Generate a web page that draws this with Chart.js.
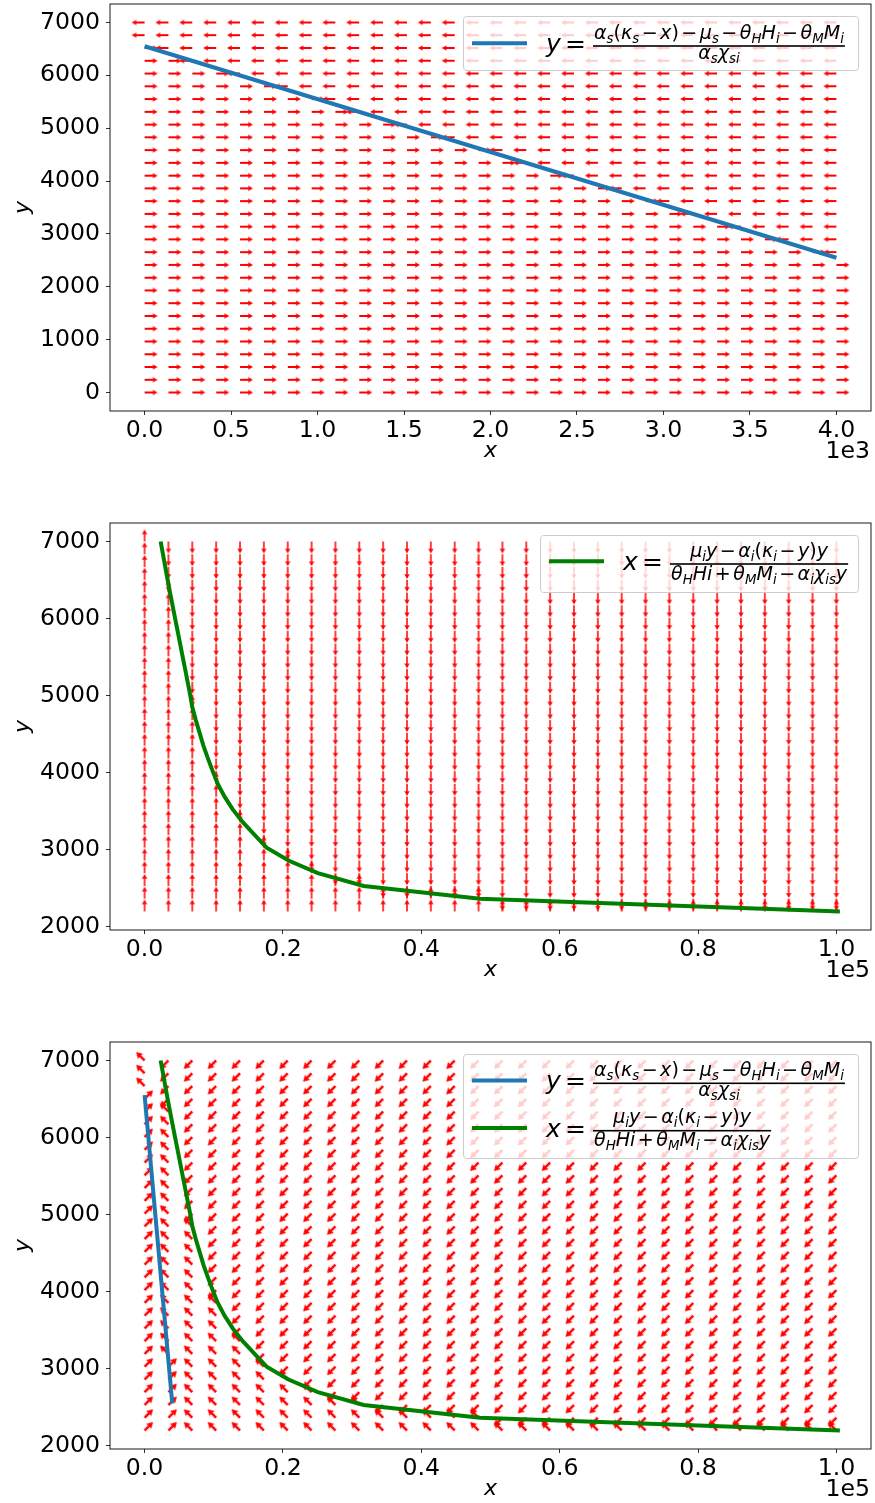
<!DOCTYPE html>
<html>
<head>
<meta charset="utf-8">
<script src="https://cdn.jsdelivr.net/npm/chart.js@4.4.0/dist/chart.umd.min.js"></script>
<style>
  html, body { margin: 0; padding: 0; background: #fff; overflow: hidden; }
  #wrap { position: relative; width: 875px; height: 1503px; }
  canvas { position: absolute; left: 0; }
</style>
</head>
<body>
<div id="wrap">
  <canvas id="c1" width="875" height="465" style="top:0px"></canvas>
  <canvas id="c2" width="875" height="465" style="top:519px"></canvas>
  <canvas id="c3" width="875" height="465" style="top:1038px"></canvas>
</div>
<script>
// ---- panel 1: quiver grid (x 0..4000, y 0..7000) ----
const gridX1 = [0, 138, 276, 414, 552, 690, 828, 966, 1103, 1241, 1379, 1517, 1655, 1793, 1931,
  2069, 2207, 2345, 2483, 2621, 2759, 2897, 3034, 3172, 3310, 3448, 3586, 3724, 3862, 4000];
const gridY1 = [0, 241, 483, 724, 966, 1207, 1448, 1690, 1931, 2172, 2414, 2655, 2897, 3138, 3379,
  3621, 3862, 4103, 4345, 4586, 4828, 5069, 5310, 5552, 5793, 6034, 6276, 6517, 6759, 7000];
// per row (bottom -> top): how many arrows from the left point right, the rest point left
const rightCount1 = [30, 30, 30, 30, 30, 30, 30, 30, 30, 30, 30, 29, 27, 25, 23,
  22, 20, 18, 16, 15, 13, 11, 9, 8, 6, 4, 2, 1, 0, 0];

// ---- panels 2 and 3: quiver grid (x 0..1e5, y 2200..7000) ----
const gridX2 = [0, 3448, 6897, 10345, 13793, 17241, 20690, 24138, 27586, 31034, 34483, 37931,
  41379, 44828, 48276, 51724, 55172, 58621, 62069, 65517, 68966, 72414, 75862, 79310, 82759,
  86207, 89655, 93103, 96552, 100000];
const gridY2 = [2200, 2366, 2531, 2697, 2862, 3028, 3193, 3359, 3524, 3690, 3855, 4021, 4186,
  4352, 4517, 4683, 4848, 5014, 5179, 5345, 5510, 5676, 5841, 6007, 6172, 6338, 6503, 6669,
  6834, 7000];
// per row: arrows left of the green curve point up (dy > 0), the rest down
const upCount2 = [30, 15, 10, 8, 7, 6, 5, 5, 4, 4, 4, 3, 3, 3, 3, 3, 3,
  2, 2, 2, 2, 2, 2, 2, 2, 2, 1, 1, 1, 1];
// panel 3, per row: arrows left of the blue line point right (dx > 0)
const rightCount3 = [2, 2, 2, 2, 2, 2, 1, 1, 1, 1, 1, 1, 1, 1, 1, 1, 1, 1, 1, 1,
  1, 1, 1, 1, 1, 1, 1, 0, 0, 0];

// nullclines
const blueX = [0, 4000];
const blueY = [6550, 2550];
const greenX = [100500, 48500, 31670, 25040, 20800, 17640, 15900, 14190, 12740, 11560, 10580,
  9840, 9150, 8500, 7950, 7400, 6900, 6580, 6220, 5860, 5490, 5130, 4770, 4400, 4040, 3680,
  3330, 2990, 2660, 2320];
const greenY = gridY2;

// axis ticks
const xTicks1 = [0, 500, 1000, 1500, 2000, 2500, 3000, 3500, 4000];
const yTicks1 = [0, 1000, 2000, 3000, 4000, 5000, 6000, 7000];
const xTicks2 = [0, 20000, 40000, 60000, 80000, 100000];
const yTicks2 = [2000, 3000, 4000, 5000, 6000, 7000];

const FORMULA_S = { lhs: 'y = ', num: 'α_s(κ_s − x) − μ_s − θ_HH_i − θ_MM_i', den: 'α_sχ_{si}' };
const FORMULA_I = { lhs: 'x = ', num: 'μ_iy − α_i(κ_i − y)y', den: 'θ_HHi + θ_MM_i − α_iχ_{is}y' };

const BLUE = '#1f77b4';
const GREEN = '#008000';
const FONT = 'DejaVu Sans';
const TICK_SIZE = 23.6;

// ---------- arrows ----------
function arrowSprite(len, shaft, headW, headL, headAxis) {
  const size = 2 * len + 8;
  const c = document.createElement('canvas');
  c.width = size; c.height = size;
  const g = c.getContext('2d');
  const cx = size / 2, cy = size / 2;
  g.fillStyle = '#ff0000';
  g.beginPath();
  g.moveTo(cx, cy - shaft / 2);
  g.lineTo(cx + len - headAxis, cy - shaft / 2);
  g.lineTo(cx + len - headL, cy - headW / 2);
  g.lineTo(cx + len, cy);
  g.lineTo(cx + len - headL, cy + headW / 2);
  g.lineTo(cx + len - headAxis, cy + shaft / 2);
  g.lineTo(cx, cy + shaft / 2);
  g.closePath();
  g.fill();
  return c;
}
const arrowH = arrowSprite(13, 1.8, 5.5, 5, 4.5);
const arrowV = arrowSprite(12, 1.7, 5.5, 5, 4.5);
const arrowD = arrowSprite(12, 2.4, 7.5, 6.5, 5.6);

function arrowSet(points, sprite, rot) {
  return {
    data: points, pointStyle: sprite, pointRotation: rot,
    pointRadius: 3, pointHoverRadius: 3, order: 5
  };
}
function lineSet(xs, ys, color) {
  return {
    data: xs.map((x, i) => ({ x, y: ys[i] })), showLine: true,
    borderColor: color, borderWidth: 4, pointRadius: 0, order: 0
  };
}

// panel 1 arrows
const p1R = [], p1L = [];
gridY1.forEach((y, i) => gridX1.forEach((x, j) => (j < rightCount1[i] ? p1R : p1L).push({ x, y })));

// panel 2 arrows
const p2U = [], p2D = [];
gridY2.forEach((y, i) => gridX2.forEach((x, j) => (j < upCount2[i] ? p2U : p2D).push({ x, y })));

// panel 3 arrows
const p3 = { ne: [], nw: [], sw: [], se: [] };
gridY2.forEach((y, i) => gridX2.forEach((x, j) => {
  const right = j < rightCount3[i], up = j < upCount2[i];
  p3[(up ? 'n' : 's') + (right ? 'e' : 'w')].push({ x, y });
}));

// ---------- mathtext-ish text ----------
function parseMath(str) {
  const runs = [];
  for (let i = 0; i < str.length; i++) {
    const c = str[i];
    if (c === '_') {
      let t;
      if (str[i + 1] === '{') { const k = str.indexOf('}', i); t = str.slice(i + 2, k); i = k; }
      else { t = str[i + 1]; i++; }
      runs.push({ t, sub: true });
    } else runs.push({ t: c, sub: false });
  }
  return runs;
}
function drawMath(ctx, str, x, base, size, measureOnly) {
  let cx = x;
  for (const r of parseMath(str)) {
    const s = r.sub ? size * 0.7 : size;
    const dy = r.sub ? size * 0.22 : 0;
    for (const ch of r.t) {
      if (ch === ' ') { cx += s * 0.13; continue; }
      const it = /[A-Za-z\u03b1-\u03c9]/.test(ch);
      ctx.font = (it ? 'italic ' : '') + s + 'px "' + FONT + '"';
      if (!measureOnly) ctx.fillText(ch, cx, base + dy);
      cx += ctx.measureText(ch).width;
    }
  }
  return cx - x;
}
const fracSize = (() => {
  const g = document.createElement('canvas').getContext('2d');
  return 100 * 250 / drawMath(g, FORMULA_S.num, 0, 0, 100, true);
})();

function roundRect(ctx, x, y, w, h, r) {
  ctx.beginPath();
  ctx.moveTo(x + r, y);
  ctx.arcTo(x + w, y, x + w, y + h, r);
  ctx.arcTo(x + w, y + h, x, y + h, r);
  ctx.arcTo(x, y + h, x, y, r);
  ctx.arcTo(x, y, x + w, y, r);
  ctx.closePath();
}

function drawLegend(ctx, lg) {
  const { x, y, w, h } = lg.box;
  ctx.save();
  roundRect(ctx, x + 0.5, y + 0.5, w, h, 3);
  ctx.fillStyle = 'rgba(255,255,255,0.8)';
  ctx.fill();
  ctx.strokeStyle = '#cccccc';
  ctx.lineWidth = 1;
  ctx.stroke();
  for (const e of lg.entries) {
    ctx.strokeStyle = e.color;
    ctx.lineWidth = 4;
    ctx.beginPath();
    ctx.moveTo(x + 9, e.bar - 2.7);
    ctx.lineTo(x + 64, e.bar - 2.7);
    ctx.stroke();
    ctx.fillStyle = '#000';
    ctx.textAlign = 'left';
    ctx.textBaseline = 'alphabetic';
    ctx.font = 'italic 25px "' + FONT + '"';
    ctx.fillText(e.f.lhs[0], x + 83, e.bar + 6);
    ctx.font = '25px "' + FONT + '"';
    ctx.fillText('=', x + 102, e.bar + 6);
    const nw = drawMath(ctx, e.f.num, 0, 0, fracSize, true);
    const dw = drawMath(ctx, e.f.den, 0, 0, fracSize, true);
    const bw = Math.max(nw, dw) + 2;
    const fx = x + 130;
    ctx.fillRect(fx, e.bar - 0.8, bw, 1.6);
    drawMath(ctx, e.f.num, fx + (bw - nw) / 2, e.bar - 7.5, fracSize);
    drawMath(ctx, e.f.den, fx + (bw - dw) / 2, e.bar + e.denDy, fracSize);
  }
  ctx.restore();
}

// spines, offset text ("1e3") and legend
const framePlugin = {
  id: 'frame',
  afterDraw(chart, args, opts) {
    const { ctx, chartArea: a } = chart;
    ctx.save();
    ctx.strokeStyle = '#000';
    ctx.lineWidth = 0.9;
    ctx.strokeRect(a.left, a.top, a.right - a.left, a.bottom - a.top);
    ctx.fillStyle = '#000';
    ctx.font = TICK_SIZE + 'px "' + FONT + '"';
    ctx.textAlign = 'right';
    ctx.textBaseline = 'alphabetic';
    ctx.fillText(opts.offsetText, a.right - 1, a.bottom + 47);
    ctx.restore();
    if (opts.legend) drawLegend(ctx, opts.legend);
  }
};

const tickFont = { family: FONT, size: TICK_SIZE };
function axis(min, max, ticks, fmt, label, isX) {
  return {
    type: 'linear', min, max,
    afterBuildTicks: s => { s.ticks = ticks.map(v => ({ value: v })); },
    afterFit: s => {
      if (isX) { s.height = 50; s.paddingLeft = 0; s.paddingRight = 0; }
      else { s.width = 110; s.paddingTop = 0; s.paddingBottom = 0; }
    },
    ticks: { font: tickFont, color: '#000', padding: isX ? 2 : 6, autoSkip: false, maxRotation: 0, callback: fmt },
    grid: { drawOnChartArea: false, drawTicks: true, tickLength: 4, tickWidth: 1, color: '#333' },
    border: { display: false },
    title: isX
      ? { display: true, text: label, color: '#000', font: { family: FONT, size: 22, style: 'italic', lineHeight: 0.9 }, padding: 0 }
      : { display: true, text: label, color: '#000', font: { family: FONT, size: 22, style: 'italic', lineHeight: 1.2 }, padding: { top: 10, bottom: 0 } }
  };
}

function makeChart(id, datasets, xs, ys, frame) {
  return new Chart(document.getElementById(id), {
    type: 'scatter',
    data: { datasets },
    options: {
      responsive: false,
      animation: false,
      devicePixelRatio: 1,
      events: [],
      layout: { padding: { left: 0, top: 4, right: 3, bottom: 4 } },
      scales: { x: xs, y: ys },
      plugins: { legend: { display: false }, tooltip: { enabled: false }, frame }
    },
    plugins: [framePlugin]
  });
}

const fmtX1 = v => (v / 1000).toFixed(1);
const fmtX2 = v => (v / 100000).toFixed(1);
const fmtY = v => String(v);

makeChart('c1', [
  lineSet(blueX, blueY, BLUE),
  arrowSet(p1R, arrowH, 0),
  arrowSet(p1L, arrowH, 180)
], axis(-200, 4200, xTicks1, fmtX1, 'x', true), axis(-350, 7350, yTicks1, fmtY, 'y', false), {
  offsetText: '1e3',
  legend: { box: { x: 463, y: 16, w: 395, h: 54 }, entries: [{ color: BLUE, f: FORMULA_S, bar: 46, denDy: 12.5 }] }
});

makeChart('c2', [
  lineSet(greenX, greenY, GREEN),
  arrowSet(p2U, arrowV, -90),
  arrowSet(p2D, arrowV, 90)
], axis(-5000, 105000, xTicks2, fmtX2, 'x', true), axis(1960, 7240, yTicks2, fmtY, 'y', false), {
  offsetText: '1e5',
  legend: { box: { x: 540, y: 16, w: 318, h: 57 }, entries: [{ color: GREEN, f: FORMULA_I, bar: 45, denDy: 15.5 }] }
});

makeChart('c3', [
  lineSet(blueX, blueY, BLUE),
  lineSet(greenX, greenY, GREEN),
  arrowSet(p3.ne, arrowD, -45),
  arrowSet(p3.nw, arrowD, -135),
  arrowSet(p3.sw, arrowD, 135),
  arrowSet(p3.se, arrowD, 45)
], axis(-5000, 105000, xTicks2, fmtX2, 'x', true), axis(1960, 7240, yTicks2, fmtY, 'y', false), {
  offsetText: '1e5',
  legend: {
    box: { x: 463, y: 16, w: 395, h: 104 },
    entries: [
      { color: BLUE, f: FORMULA_S, bar: 45.3, denDy: 12.5 },
      { color: GREEN, f: FORMULA_I, bar: 92.7, denDy: 15.5 }
    ]
  }
});
</script>
</body>
</html>
